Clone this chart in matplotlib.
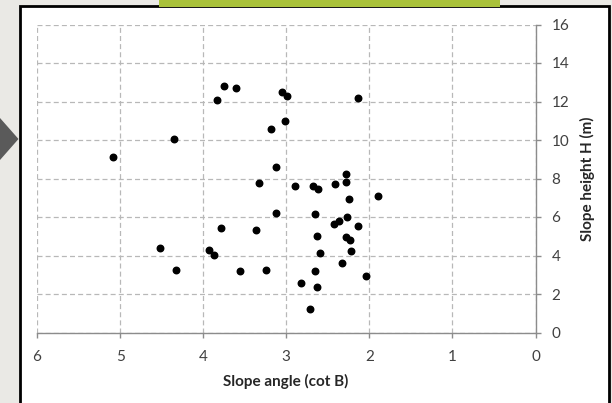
import numpy as np
import matplotlib.pyplot as plt
from matplotlib.patches import Rectangle, Polygon

# slope angle (cot B) and slope height H (m)
cot_b = [5.09, 4.35, 3.75, 3.61, 3.83, 3.05, 2.99, 2.14, 3.01, 3.18,
         3.12, 3.33, 2.90, 2.68, 2.62, 2.41, 2.28, 2.28, 2.24, 1.90,
         3.12, 2.65, 2.27, 2.42, 2.36, 2.14, 3.78, 3.36, 2.63, 2.28,
         2.23, 4.52, 3.93, 3.87, 2.59, 2.22, 2.33, 4.33, 3.56, 3.24,
         2.65, 2.04, 2.82, 2.63, 2.71]
height = [9.13, 10.05, 12.80, 12.72, 12.10, 12.50, 12.28, 12.18, 10.99, 10.57,
          8.59, 7.76, 7.63, 7.60, 7.48, 7.74, 8.21, 7.84, 6.96, 7.11,
          6.23, 6.13, 6.00, 5.65, 5.77, 5.53, 5.41, 5.32, 5.03, 4.96,
          4.80, 4.38, 4.31, 4.02, 4.12, 4.23, 3.62, 3.23, 3.17, 3.23,
          3.22, 2.92, 2.57, 2.38, 1.20]

x_ticks = [6, 5, 4, 3, 2, 1, 0]
y_ticks = [0, 2, 4, 6, 8, 10, 12, 14, 16]

plt.rcParams['font.family'] = ['Lato', 'DejaVu Sans']

fig = plt.figure(figsize=(6.12, 4.03), dpi=100)
fig.patch.set_facecolor('#eae9e5')

W, H = 612.0, 403.0
# white panel with dark frame (bottom edge runs off the figure)
fig.patches.append(Rectangle((19.5 / W, -10 / H), 589 / W, (H + 4) / H, transform=fig.transFigure,
                             facecolor='white', edgecolor='black', linewidth=2, zorder=-2))
# green strip at top
fig.patches.append(Rectangle((159 / W, (H - 7) / H), 341 / W, 7 / H, transform=fig.transFigure,
                             facecolor='#a9c23a', edgecolor='none', zorder=-1))
# arrow on the left
fig.patches.append(Polygon([(0, (H - 118) / H), (18.5 / W, (H - 139) / H), (0, (H - 160) / H)],
                           closed=True, transform=fig.transFigure,
                           facecolor='#5a5a5a', edgecolor='none', zorder=-1))

ax = fig.add_axes([37 / W, 70.5 / H, 498.5 / W, 308 / H])
ax.set_zorder(1)
ax.set_facecolor('white')
ax.scatter(cot_b, height, s=22, color='black', zorder=3)

ax.set_xlim(6, 0)
ax.set_ylim(0, 16)
ax.set_xticks(x_ticks)
ax.set_yticks(y_ticks)

ax.grid(True, color='#b8b8b8', linestyle=(0, (4, 2.5)), linewidth=0.9)
ax.set_axisbelow(True)
for s in ['left', 'top']:
    ax.spines[s].set_visible(False)
for s in ['right', 'bottom']:
    ax.spines[s].set_color('#8c8c8c')
    ax.spines[s].set_linewidth(1.0)

ax.yaxis.tick_right()
ax.yaxis.set_label_position('right')
ax.tick_params(axis='both', colors='#8c8c8c', labelcolor='#404040',
               labelsize=11, length=3.5, width=1)
ax.tick_params(axis='x', pad=9)
ax.tick_params(axis='y', pad=8)
for lbl in ax.get_yticklabels():
    lbl.set_horizontalalignment('left')

ax.set_xlabel('Slope angle (cot B)', fontsize=11, fontweight='bold', color='#262626')
ax.set_ylabel('Slope height H (m)', fontsize=11, fontweight='bold', color='#262626')
ax.xaxis.set_label_coords((286 - 37) / 498.5, -(381 - 332.5) / 308)
ax.yaxis.set_label_coords((587 - 37) / 498.5, 0.5)
ax.xaxis.label.set_verticalalignment('center')
ax.yaxis.label.set_verticalalignment('center')

fig.savefig('out.png', dpi=100, facecolor=fig.get_facecolor())
